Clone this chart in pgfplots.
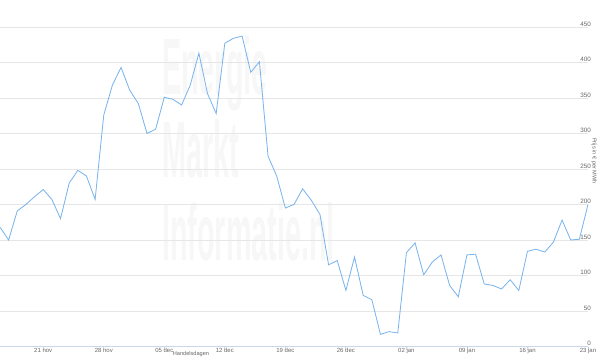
\documentclass[border=0pt]{standalone}
\usepackage{pgfplots}
\pgfplotsset{compat=1.18}
\usepackage{fontspec}
\setmainfont{Liberation Sans}
\definecolor{hcblue}{HTML}{7CB5EC}
\definecolor{gridc}{HTML}{E6E6E6}
\definecolor{axcol}{HTML}{CCD6EB}
\definecolor{lab}{HTML}{666666}
\definecolor{wm}{HTML}{F7F7F7}
\pgfplotstableread{
d v
0 168
1 150
2 191
3 200
4 211
5 221
6 207
7 180
8 230
9 248
10 240
11 207
12 326
13 368
14 393
15 361
16 342
17 300
18 306
19 351
20 348
21 340
22 368
23 413
24 356
25 328
26 427
27 434
28 437
29 386
30 401
31 268
32 240
33 195
34 200
35 222
36 206
37 186
38 115
39 121
40 79
41 126
42 72
43 66
44 17
45 21
46 19
47 132
48 146
49 101
50 119
51 129
52 86
53 70
54 129
55 130
56 88
57 86
58 81
59 94
60 79
61 134
62 137
63 133
64 147
65 178
66 150
67 151
68 200
}\prices
\begin{document}
\begin{tikzpicture}[x=1pt,y=1pt]
\useasboundingbox (0,0) rectangle (600,361);
\begin{scope}[every node/.style={anchor=base west, inner sep=0pt, text=wm, font=\bfseries\fontsize{80}{80}\selectfont, xscale=0.36}]
\node at (162,266) {Energie};
\node at (162,183) {Markt};
\node at (162,100) {Informatie.nl};
\end{scope}
\begin{axis}[
  at={(0,20.4)}, anchor=south west,
  scale only axis, width=588pt, height=319.6pt,
  xmin=0, xmax=68, ymin=0, ymax=450,
  axis x line*=bottom, axis y line*=right,
  x axis line style={draw=axcol, line width=0.8pt, -},
  y axis line style={draw=none},
  ytick={0,50,...,450},
  xtick={5,12,19,26,33,40,47,54,61,68},
  xticklabels={21 nov,28 nov,05 dec,12 dec,19 dec,26 dec,02 jan,09 jan,16 jan,23 jan},
  ymajorgrids, grid style={draw=gridc, line width=0.8pt},
  x tick style={draw=axcol, line width=0.8pt},
  xtick align=outside,
  major tick length=3pt,
  y tick style={draw=none},
  yticklabel style={anchor=south east, xshift=3pt, yshift=0.5pt, inner sep=0pt, font=\fontsize{6.3}{7}\selectfont, text=lab},
  xticklabel style={inner sep=0pt, yshift=1.5pt, font=\fontsize{6}{7}\selectfont, text=lab},
  /pgf/number format/assume math mode=true,
  clip=false,
]
\addplot[hcblue, line width=0.85pt, mark=none] table[x=d, y=v] {\prices};
\end{axis}
\node[text=lab, font=\fontsize{5.6}{6}\selectfont] at (191,6.5) {Handelsdagen};
\node[text=lab, rotate=-90, font=\fontsize{5.6}{6}\selectfont] at (594,200) {Prijs in € per MWh};
\end{tikzpicture}
\end{document}
